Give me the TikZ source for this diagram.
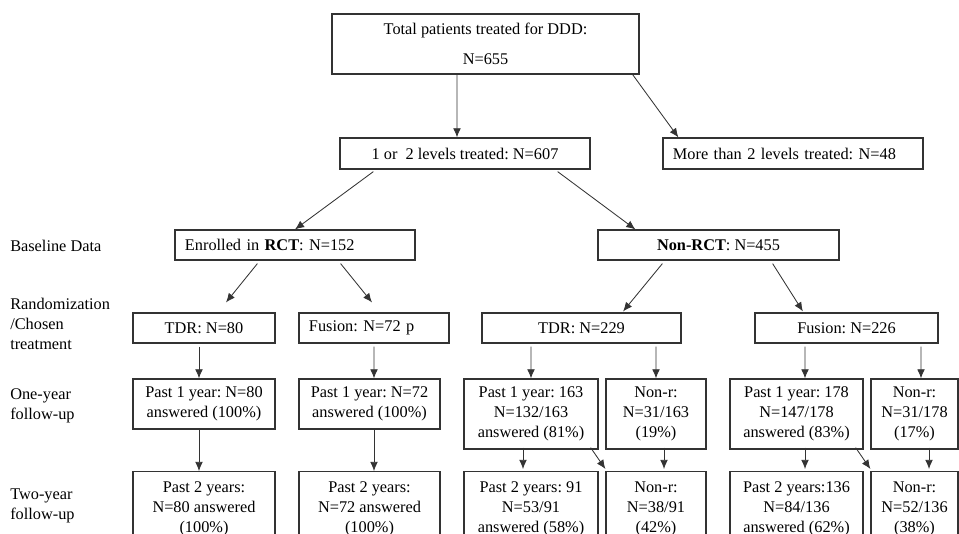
\documentclass[tikz,border=0pt]{standalone}
\usepackage{fontspec}
\setmainfont{Liberation Serif}
\frenchspacing
\usetikzlibrary{arrows.meta}

\begin{document}
\begin{tikzpicture}[x=0.025cm, y=-0.025cm,
    box/.style={draw=black!80, line width=0.85pt, align=center, inner sep=0pt,
        font=\fontsize{11.6}{14.2}\selectfont},
    lbox/.style={box, align=left, inner xsep=0.25cm},
    lbl/.style={anchor=west, align=left, inner sep=0pt,
        font=\fontsize{11.6}{14.2}\selectfont},
    arr/.style={draw=black!80, line width=0.6pt, -{Latex[length=6.5pt,width=5.5pt]}}]
    \useasboundingbox (0,0) rectangle (959,533);
    \clip (0,0) rectangle (959,533);

    % Top levels
    \node[box, minimum width=7.675cm, minimum height=1.5cm] (top) at (485.5,44)
        {Total patients treated for DDD:\\[7pt]N=655};
    \node[box, minimum width=6.25cm, minimum height=0.775cm] (lvl12) at (465,153.5)
        {1 or\ \ 2 levels treated: N=607};
    \node[lbox, text width=6.0cm, minimum height=0.775cm] (more2) at (793,153.5)
        {More than 2 levels treated: N=48};

    % Baseline
    \node[lbox, text width=5.5cm, minimum height=0.75cm] (rct) at (295,245)
        {Enrolled in \textbf{RCT}: N=152};
    \node[box, minimum width=6.025cm, minimum height=0.75cm] (nonrct) at (718.5,245)
        {\textbf{Non-RCT}: N=455};

    % Treatment
    \node[box, minimum width=3.55cm, minimum height=0.75cm] (tdrA) at (204,328) {TDR: N=80};
    \node[lbox, text width=3.25cm, minimum height=0.75cm] (fusA) at (374,328) {Fusion: N=72 p};
    \node[box, minimum width=4.975cm, minimum height=0.75cm] (tdrB) at (581.5,328) {TDR: N=229};
    \node[box, minimum width=4.575cm, minimum height=0.75cm] (fusB) at (846.5,328) {Fusion: N=226};

    % One-year follow-up
    \node[box, minimum width=3.55cm, minimum height=1.25cm] (p1a) at (204,404)
        {Past 1 year: N=80\\answered (100\%)};
    \node[box, minimum width=3.525cm, minimum height=1.25cm] (p1b) at (369.5,404)
        {Past 1 year: N=72\\answered (100\%)};
    \node[box, minimum width=3.35cm, minimum height=1.75cm] (p1c) at (531,414)
        {Past 1 year: 163\\N=132/163\\answered (81\%)};
    \node[box, minimum width=2.5cm, minimum height=1.75cm] (nr1c) at (656,414)
        {Non-r:\\N=31/163\\(19\%)};
    \node[box, minimum width=3.325cm, minimum height=1.75cm] (p1d) at (796.5,414)
        {Past 1 year: 178\\N=147/178\\answered (83\%)};
    \node[box, minimum width=2.175cm, minimum height=1.75cm] (nr1d) at (914.5,414)
        {Non-r:\\N=31/178\\(17\%)};

    % Two-year follow-up
    \node[box, anchor=north, minimum width=3.55cm, minimum height=1.875cm] (p2a) at (204,471)
        {Past 2 years:\\N=80 answered\\(100\%)};
    \node[box, anchor=north, minimum width=3.525cm, minimum height=1.875cm] (p2b) at (369.5,471)
        {Past 2 years:\\N=72 answered\\(100\%)};
    \node[box, anchor=north, minimum width=3.35cm, minimum height=1.875cm] (p2c) at (531,471)
        {Past 2 years: 91\\N=53/91\\answered (58\%)};
    \node[box, anchor=north, minimum width=2.5cm, minimum height=1.875cm] (nr2c) at (656,471)
        {Non-r:\\N=38/91\\(42\%)};
    \node[box, anchor=north, minimum width=3.325cm, minimum height=1.875cm] (p2d) at (796.5,471)
        {Past 2 years:136\\N=84/136\\answered (62\%)};
    \node[box, anchor=north, minimum width=2.175cm, minimum height=1.875cm] (nr2d) at (914.5,471)
        {Non-r:\\N=52/136\\(38\%)};

    % Row labels
    \node[lbl] (lblBase) at (10,246) {Baseline Data};
    \node[lbl] (lblRand) at (10,324) {Randomization\\/Chosen\\treatment};
    \node[lbl] (lblOne) at (10,405.5) {One-year\\follow-up};
    \node[lbl] (lblTwo) at (10,505.5) {Two-year\\follow-up};

    % Arrows
    \draw[arr] ([xshift=-0.7125cm]top.south) -- ([xshift=-0.2cm]lvl12.north);
    \draw[arr] ([xshift=-0.175cm]top.south east) -- ([xshift=0.4cm]more2.north west);
    \draw[arr] ([xshift=0.85cm,yshift=-0.05cm]lvl12.south west) -- (rct.north);
    \draw[arr] ([xshift=-0.825cm,yshift=-0.05cm]lvl12.south east) -- ([xshift=0.95cm]nonrct.north west);
    \draw[arr] ([xshift=2.075cm,yshift=-0.075cm]rct.south west) -- ([xshift=0.55cm,yshift=0.25cm]tdrA.north);
    \draw[arr] ([xshift=-1.875cm,yshift=-0.075cm]rct.south east) -- ([xshift=-0.05cm,yshift=0.25cm]fusA.north);
    \draw[arr] ([xshift=1.625cm,yshift=-0.075cm]nonrct.south west) -- ([xshift=1.04cm,yshift=0.025cm]tdrB.north);
    \draw[arr] ([xshift=-1.675cm,yshift=-0.075cm]nonrct.south east) -- ([xshift=-1.09cm,yshift=0.025cm]fusB.north);

    \draw[arr] ([xshift=-0.125cm,yshift=-0.075cm]tdrA.south) -- ([xshift=-0.125cm]p1a.north);
    \draw[arr] ([yshift=-0.075cm]fusA.south) -- ([xshift=0.1125cm]p1b.north);
    \draw[arr] ([xshift=-1.2625cm,yshift=-0.075cm]tdrB.south) -- (p1c.north);
    \draw[arr] ([xshift=1.8625cm,yshift=-0.075cm]tdrB.south) -- (nr1c.north);
    \draw[arr] ([xshift=-1.0375cm,yshift=-0.075cm]fusB.south) -- ([xshift=0.2125cm]p1d.north);
    \draw[arr] ([xshift=1.8625cm,yshift=-0.075cm]fusB.south) -- ([xshift=0.1625cm]nr1d.north);

    \draw[arr] ([xshift=-0.125cm]p1a.south) -- ([xshift=-0.125cm]p2a.north);
    \draw[arr] ([xshift=0.1125cm]p1b.south) -- ([xshift=0.1125cm]p2b.north);
    \draw[arr] ([xshift=-0.2cm,yshift=0.05cm]p1c.south) -- ([xshift=-0.2cm,yshift=0.05cm]p2c.north);
    \draw[arr] ([xshift=-0.2cm,yshift=0.05cm]p1c.south east) -- ([yshift=0.05cm]nr2c.north west);
    \draw[arr] ([xshift=0.2cm,yshift=0.05cm]nr1c.south) -- ([xshift=0.2cm,yshift=0.05cm]nr2c.north);
    \draw[arr] ([xshift=0.2125cm,yshift=0.05cm]p1d.south) -- ([xshift=0.2125cm,yshift=0.05cm]p2d.north);
    \draw[arr] ([xshift=-0.2cm,yshift=0.05cm]p1d.south east) -- ([yshift=0.05cm]nr2d.north west);
    \draw[arr] ([xshift=0.3625cm,yshift=0.05cm]nr1d.south) -- ([xshift=0.3625cm,yshift=0.05cm]nr2d.north);
\end{tikzpicture}
\end{document}
